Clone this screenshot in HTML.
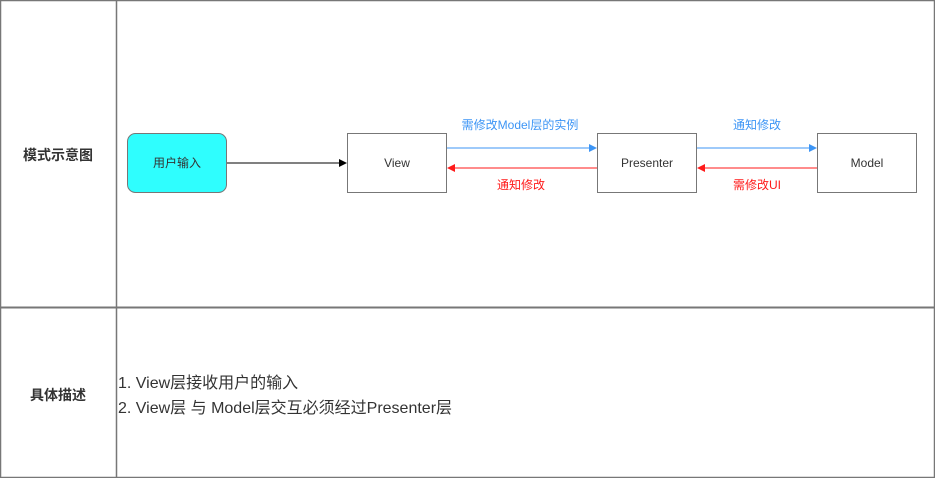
<!DOCTYPE html>
<html><head><meta charset="utf-8"><style>
html,body{margin:0;padding:0;background:#fff;}
svg{display:block;font-family:"Liberation Sans","Noto Sans CJK SC",sans-serif;}
</style></head><body>
<svg width="935" height="478" viewBox="0 0 935 478" xmlns="http://www.w3.org/2000/svg">
<defs>
<marker id="ab" markerWidth="8" markerHeight="8" refX="7" refY="4" orient="auto" markerUnits="userSpaceOnUse"><path d="M0,0 L8,4 L0,8 Z" fill="#000"/></marker>
<marker id="au" markerWidth="8" markerHeight="8" refX="7" refY="4" orient="auto" markerUnits="userSpaceOnUse"><path d="M0,0 L8,4 L0,8 Z" fill="#3d95f5"/></marker>
<marker id="ar" markerWidth="8" markerHeight="8" refX="7" refY="4" orient="auto" markerUnits="userSpaceOnUse"><path d="M0,0 L8,4 L0,8 Z" fill="#ff1a1a"/></marker>
</defs>
<rect x="0.5" y="0.5" width="934" height="477" fill="#fff" stroke="#777" stroke-width="1.5"/>
<line x1="116.5" y1="0" x2="116.5" y2="478" stroke="#777" stroke-width="1.5"/>
<line x1="0" y1="307.5" x2="935" y2="307.5" stroke="#777" stroke-width="2"/>
<text x="58" y="160" font-size="14" font-weight="bold" fill="#333" text-anchor="middle">模式示意图</text>
<text x="58" y="400" font-size="14" font-weight="bold" fill="#333" text-anchor="middle">具体描述</text>

<rect x="127.5" y="133.5" width="99" height="59" rx="8" fill="#2ffefe" stroke="#777"/>
<text x="177" y="167" font-size="12" fill="#333" text-anchor="middle">用户输入</text>
<rect x="347.5" y="133.5" width="99" height="59" fill="#fff" stroke="#777"/>
<text x="397" y="167" font-size="12" fill="#333" text-anchor="middle">View</text>
<rect x="597.5" y="133.5" width="99" height="59" fill="#fff" stroke="#777"/>
<text x="647" y="167" font-size="12" fill="#333" text-anchor="middle">Presenter</text>
<rect x="817.5" y="133.5" width="99" height="59" fill="#fff" stroke="#777"/>
<text x="867" y="167" font-size="12" fill="#333" text-anchor="middle">Model</text>

<line x1="227" y1="163" x2="346" y2="163" stroke="#000" marker-end="url(#ab)"/>
<line x1="447" y1="148" x2="596" y2="148" stroke="#3d95f5" marker-end="url(#au)"/>
<line x1="597" y1="168" x2="448" y2="168" stroke="#ff1a1a" marker-end="url(#ar)"/>
<line x1="697" y1="148" x2="816" y2="148" stroke="#3d95f5" marker-end="url(#au)"/>
<line x1="817" y1="168" x2="698" y2="168" stroke="#ff1a1a" marker-end="url(#ar)"/>

<text x="520" y="129" font-size="12" fill="#3d95f5" text-anchor="middle">需修改Model层的实例</text>
<text x="521" y="189" font-size="12" fill="#ff1a1a" text-anchor="middle">通知修改</text>
<text x="757" y="129" font-size="12" fill="#3d95f5" text-anchor="middle">通知修改</text>
<text x="757" y="189" font-size="12" fill="#ff1a1a" text-anchor="middle">需修改UI</text>

<text x="118" y="388" font-size="16" fill="#333">1. View层接收用户的输入</text>
<text x="118" y="413" font-size="16" fill="#333">2. View层 与 Model层交互必须经过Presenter层</text>
</svg>
</body></html>
